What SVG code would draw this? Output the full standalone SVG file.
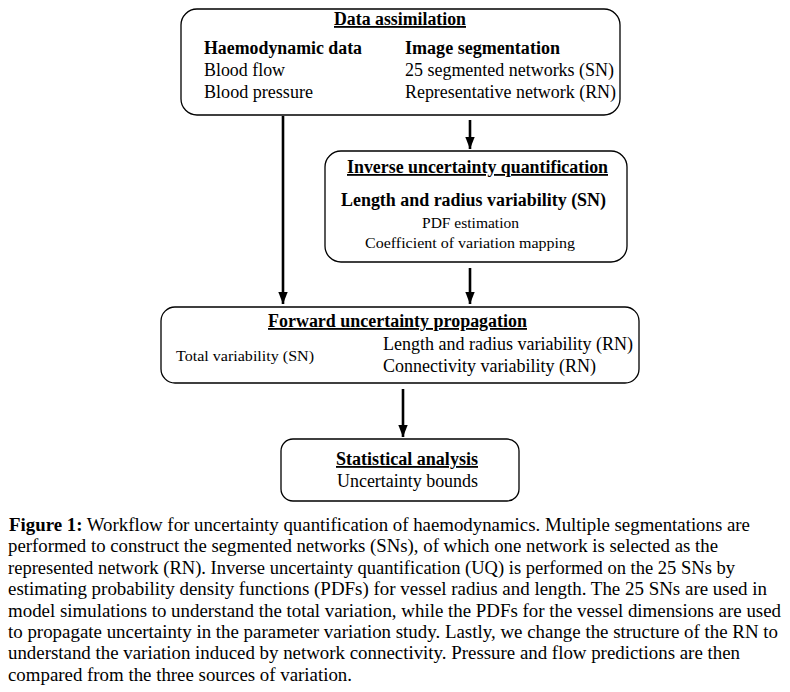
<svg xmlns="http://www.w3.org/2000/svg" width="790" height="692" viewBox="0 0 790 692" font-family="'Liberation Serif', 'Times New Roman', Times, serif">
<style>
text{fill:#000}
.t{font-weight:bold;font-size:18px;text-decoration:underline}
.b{font-weight:bold;font-size:18px}
.r{font-size:18px}
.s{font-size:15.5px}
.c{font-size:18px}
.box{fill:#fff;stroke:#000;stroke-width:1.3}
.con line{stroke:#000;stroke-width:2.6}
</style>
<defs>
<marker id="ah" viewBox="0 0 10 10" refX="10" refY="5" markerWidth="4.6" markerHeight="3.6" markerUnits="strokeWidth" orient="auto" preserveAspectRatio="none">
<path d="M0,0 L10,5 L0,10 z" fill="#000"/>
</marker>
</defs>
<rect width="790" height="692" fill="#fff"/>
<g id="connectors" class="con">
<line x1="283" y1="116" x2="283" y2="304" marker-end="url(#ah)"/>
<line x1="470" y1="120" x2="470" y2="149" marker-end="url(#ah)"/>
<line x1="470" y1="268" x2="470" y2="304" marker-end="url(#ah)"/>
<line x1="403" y1="389" x2="403" y2="437" marker-end="url(#ah)"/>
</g>
<g id="data-assimilation">
<rect class="box" x="181" y="9" width="439" height="106" rx="16"/>
<text class="t" x="334" y="25" textLength="132" lengthAdjust="spacingAndGlyphs">Data assimilation</text>
<text class="b" x="204" y="54" textLength="158" lengthAdjust="spacingAndGlyphs">Haemodynamic data</text>
<text class="b" x="405" y="54" textLength="155" lengthAdjust="spacingAndGlyphs">Image segmentation</text>
<text class="r" x="204" y="76" textLength="81" lengthAdjust="spacingAndGlyphs">Blood flow</text>
<text class="r" x="405" y="76" textLength="209" lengthAdjust="spacingAndGlyphs">25 segmented networks (SN)</text>
<text class="r" x="204" y="98" textLength="109" lengthAdjust="spacingAndGlyphs">Blood pressure</text>
<text class="r" x="405" y="98" textLength="211" lengthAdjust="spacingAndGlyphs">Representative network (RN)</text>
</g>
<g id="inverse-uq">
<rect class="box" x="325" y="151" width="302" height="111" rx="16"/>
<text class="t" x="347" y="173" textLength="261" lengthAdjust="spacingAndGlyphs">Inverse uncertainty quantification</text>
<text class="b" x="341" y="206" textLength="265" lengthAdjust="spacingAndGlyphs">Length and radius variability (SN)</text>
<text class="s" x="422" y="228" textLength="97" lengthAdjust="spacingAndGlyphs">PDF estimation</text>
<text class="s" x="365" y="248" textLength="210" lengthAdjust="spacingAndGlyphs">Coefficient of variation mapping</text>
</g>
<g id="forward-up">
<rect class="box" x="161" y="307" width="478" height="76" rx="14"/>
<text class="t" x="268" y="327" textLength="259" lengthAdjust="spacingAndGlyphs">Forward uncertainty propagation</text>
<text class="s" x="176" y="361" textLength="138" lengthAdjust="spacingAndGlyphs">Total variability (SN)</text>
<text class="r" x="383" y="350" textLength="250" lengthAdjust="spacingAndGlyphs">Length and radius variability (RN)</text>
<text class="r" x="383" y="372" textLength="213" lengthAdjust="spacingAndGlyphs">Connectivity variability (RN)</text>
</g>
<g id="statistical-analysis">
<rect class="box" x="281" y="439" width="238" height="62" rx="12"/>
<text class="t" x="336" y="465" textLength="142" lengthAdjust="spacingAndGlyphs">Statistical analysis</text>
<text class="r" x="337" y="487" textLength="141" lengthAdjust="spacingAndGlyphs">Uncertainty bounds</text>
</g>
<g id="caption">
<text class="c" x="9" y="531" textLength="741" lengthAdjust="spacingAndGlyphs"><tspan font-weight="bold">Figure 1:</tspan> Workflow for uncertainty quantification of haemodynamics. Multiple segmentations are</text>
<text class="c" x="8" y="552" textLength="710" lengthAdjust="spacingAndGlyphs">performed to construct the segmented networks (SNs), of which one network is selected as the</text>
<text class="c" x="8" y="574" textLength="727" lengthAdjust="spacingAndGlyphs">represented network (RN). Inverse uncertainty quantification (UQ) is performed on the 25 SNs by</text>
<text class="c" x="8" y="595" textLength="759" lengthAdjust="spacingAndGlyphs">estimating probability density functions (PDFs) for vessel radius and length. The 25 SNs are used in</text>
<text class="c" x="8" y="617" textLength="773" lengthAdjust="spacingAndGlyphs">model simulations to understand the total variation, while the PDFs for the vessel dimensions are used</text>
<text class="c" x="8" y="638" textLength="770" lengthAdjust="spacingAndGlyphs">to propagate uncertainty in the parameter variation study. Lastly, we change the structure of the RN to</text>
<text class="c" x="8" y="659" textLength="732" lengthAdjust="spacingAndGlyphs">understand the variation induced by network connectivity. Pressure and flow predictions are then</text>
<text class="c" x="8" y="681" textLength="344" lengthAdjust="spacingAndGlyphs">compared from the three sources of variation.</text>
</g>
</svg>
